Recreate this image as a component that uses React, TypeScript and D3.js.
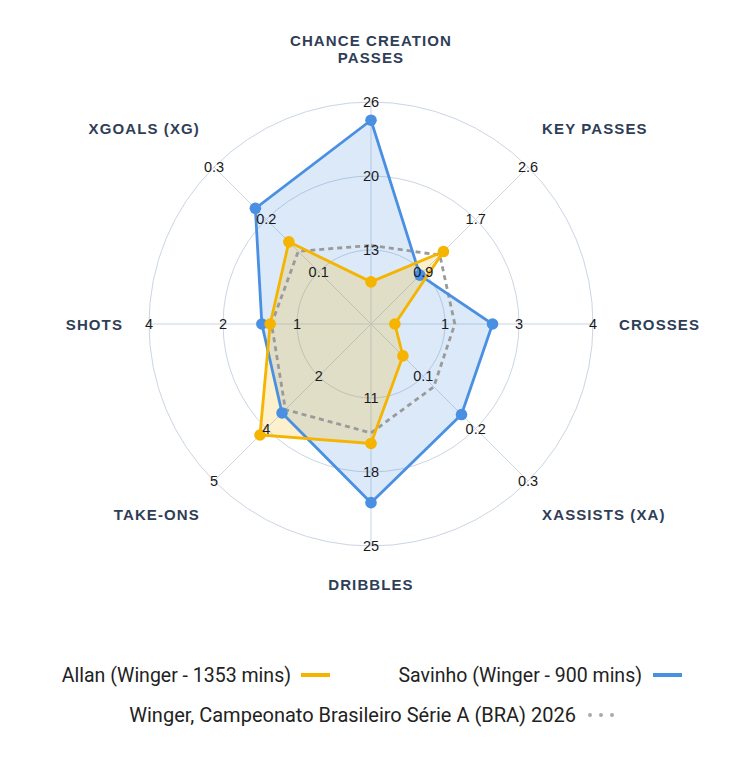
import React from 'react';
import * as d3 from 'd3';

// axes, clockwise from the top
const AXES = [
    ['CHANCE CREATION', 'PASSES'],
    ['KEY PASSES'],
    ['CROSSES'],
    ['XASSISTS (XA)'],
    ['DRIBBLES'],
    ['TAKE-ONS'],
    ['SHOTS'],
    ['XGOALS (XG)'],
];

// per-axis scale ends (centre value, outer ring value)
const AXIS_MIN = [6.5, 0, 0, 0, 4, 0.8, -0.8, 0];
const AXIS_MAX = [26, 2.6, 4, 0.3, 25, 5, 4, 0.3];

// tick labels on the three rings
const TICKS = [
    ['13', '20', '26'],
    ['0.9', '1.7', '2.6'],
    ['1', '3', '4'],
    ['0.1', '0.2', '0.3'],
    ['11', '18', '25'],
    ['2', '4', '5'],
    ['1', '2', '4'],
    ['0.1', '0.2', '0.3'],
];

const ALLAN = [10.2, 1.2, 0.43, 0.061, 15.3, 3.77, 1.38, 0.157];
const SAVINHO = [24.4, 0.81, 2.19, 0.173, 20.9, 3.18, 1.56, 0.221];
const AVERAGE = [13.4, 1.14, 1.51, 0.12, 14.3, 3.09, 1.35, 0.139];

const ALLAN_LABEL = 'Allan (Winger - 1353 mins)';
const SAVINHO_LABEL = 'Savinho (Winger - 900 mins)';
const AVERAGE_LABEL = 'Winger, Campeonato Brasileiro Série A (BRA) 2026';

const YELLOW = '#f4b400';
const BLUE = '#4a90e2';
const GREY = '#9a9a9a';
const GRID = '#cbd5e4';
const LABEL = '#2f3e56';

const W = 750;
const H = 760;
const cx = 371;
const cy = 324;
const R = 222;
const RINGS = 3;

const App: React.FC = () => {
    const n = AXES.length;
    const angle = (i: number) => (i * 2 * Math.PI) / n;
    const scales = AXIS_MIN.map((m, i) => d3.scaleLinear().domain([m, AXIS_MAX[i]]).range([0, R]));
    const ring = d3.scaleLinear().domain([0, RINGS]).range([0, R]);

    const polar = (i: number, r: number): [number, number] => [
        cx + r * Math.sin(angle(i)),
        cy - r * Math.cos(angle(i)),
    ];

    const toPoints = (vals: number[]) => vals.map((v, i) => polar(i, scales[i](v)));
    const line = d3.line<[number, number]>().curve(d3.curveLinearClosed);

    const series = [
        { key: 'avg', pts: toPoints(AVERAGE), color: GREY, fill: 'none', dash: '5 4', dots: false },
        { key: 'sav', pts: toPoints(SAVINHO), color: BLUE, fill: 'rgba(74,144,226,0.2)', dash: undefined, dots: true },
        { key: 'allan', pts: toPoints(ALLAN), color: YELLOW, fill: 'rgba(244,180,0,0.2)', dash: undefined, dots: true },
    ];

    // axis title placement
    const titlePos = (i: number) => {
        const s = Math.sin(angle(i));
        const c = Math.cos(angle(i));
        const r = 248 - 6 * Math.abs(c) * Math.abs(s) * 2;
        const x = cx + r * s;
        let y = cy - r * c;
        if (c > 0.01) y += -19 - 9 * Math.abs(s);
        else if (c < -0.01) y += 12 + 9.4 * Math.abs(s);
        const anchor = Math.abs(s) < 0.01 ? 'middle' : s > 0 ? 'start' : 'end';
        return { x, y, anchor };
    };

    return (
        <svg width={W} height={H} style={{ position: 'absolute', left: 0, top: 0, background: '#fff' }}>
            {/* grid rings */}
            {d3.range(1, RINGS + 1).map(k => (
                <circle key={k} cx={cx} cy={cy} r={ring(k)} fill="none" stroke={GRID} strokeWidth={1} />
            ))}
            {/* spokes */}
            {AXES.map((_, i) => {
                const [x, y] = polar(i, R);
                return <line key={i} x1={cx} y1={cy} x2={x} y2={y} stroke={GRID} strokeWidth={1} />;
            })}

            {/* series */}
            {series.map(s => (
                <path key={s.key + '-fill'} d={line(s.pts) || ''} fill={s.fill} stroke="none" />
            ))}
            {series.map(s => (
                <g key={s.key}>
                    <path
                        d={line(s.pts) || ''}
                        fill="none"
                        stroke={s.color}
                        strokeWidth={2.8}
                        strokeDasharray={s.dash}
                        strokeLinejoin="miter"
                    />
                    {s.dots && s.pts.map(([x, y], i) => <circle key={i} cx={x} cy={y} r={5.8} fill={s.color} />)}
                </g>
            ))}

            {/* tick labels */}
            {TICKS.map((ticks, i) =>
                ticks.map((t, k) => {
                    const [x, y] = polar(i, ring(k + 1));
                    return (
                        <text
                            key={i + '-' + k}
                            x={x}
                            y={y}
                            textAnchor="middle"
                            dominantBaseline="central"
                            fontFamily="'Liberation Sans', Arial, sans-serif"
                            fontSize={14.5}
                            fill="#1a1a1a"
                        >
                            {t}
                        </text>
                    );
                })
            )}

            {/* axis titles */}
            {AXES.map((lines, i) => {
                const p = titlePos(i);
                return (
                    <text
                        key={i}
                        textAnchor={p.anchor}
                        fontFamily="'Liberation Sans', Arial, sans-serif"
                        fontWeight="bold"
                        fontSize={15}
                        letterSpacing={1.1}
                        fill={LABEL}
                        dominantBaseline="central"
                    >
                        {lines.map((l, j) => (
                            <tspan key={j} x={p.x} y={p.y - (lines.length - 1 - j) * 16.6}>
                                {l}
                            </tspan>
                        ))}
                    </text>
                );
            })}

            {/* legend */}
            <g fontFamily="Roboto, sans-serif" fontSize={19.5} fill="#222">
                <text x={291} y={675} textAnchor="end" dominantBaseline="central">{ALLAN_LABEL}</text>
                <line x1={301} x2={330} y1={675} y2={675} stroke={YELLOW} strokeWidth={4} />
                <text x={642} y={675} textAnchor="end" dominantBaseline="central">{SAVINHO_LABEL}</text>
                <line x1={653} x2={682} y1={675} y2={675} stroke={BLUE} strokeWidth={4} />
                <text x={576} y={715} textAnchor="end" dominantBaseline="central" fontSize={20}>{AVERAGE_LABEL}</text>
                {d3.range(3).map(k => (
                    <circle key={k} cx={590 + k * 11} cy={715} r={2} fill="#aaa" />
                ))}
            </g>
        </svg>
    );
};

export default App;
